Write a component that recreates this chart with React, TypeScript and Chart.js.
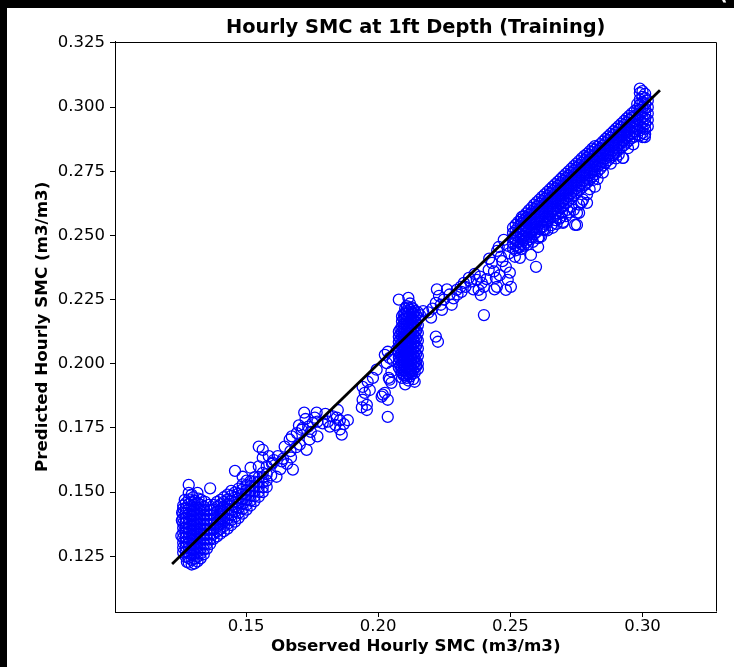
import React, { useEffect, useRef } from 'react';
import { Chart, registerables } from 'chart.js';

Chart.register(...registerables);

const titleText = 'Hourly SMC at 1ft Depth (Training)';
const xLabel = 'Observed Hourly SMC (m3/m3)';
const yLabel = 'Predicted Hourly SMC (m3/m3)';
const xTicks = [0.15, 0.2, 0.25, 0.3];
const yTicks = [0.125, 0.15, 0.175, 0.2, 0.225, 0.25, 0.275, 0.3, 0.325];
const xRange = [0.1004, 0.328];
const yRange = [0.1033, 0.3255];
const refLine = [0.122, 0.3066];

// dense columns: [observed, [predicted...]]
const lowBlob: [number, number[]][] = [
  [0.1262, [0.1265, 0.1284, 0.1303, 0.1322, 0.1341, 0.136, 0.1379, 0.1398, 0.1417, 0.1436, 0.1448]],
  [0.1272, [0.1248, 0.1267, 0.1286, 0.1305, 0.1324, 0.1343, 0.1362, 0.1381, 0.14, 0.1419, 0.1438, 0.1457]],
  [0.1283, [0.1225, 0.1244, 0.1263, 0.1282, 0.1301, 0.132, 0.1339, 0.1358, 0.1377, 0.1396, 0.1415, 0.1434, 0.1453, 0.1472, 0.1497, 0.1528]],
  [0.1294, [0.1218, 0.1236, 0.1255, 0.1274, 0.1293, 0.1312, 0.1331, 0.135, 0.1369, 0.1388, 0.1407, 0.1426, 0.1445, 0.1464, 0.149]],
  [0.1305, [0.1222, 0.1241, 0.126, 0.1279, 0.1298, 0.1317, 0.1336, 0.1355, 0.1374, 0.1393, 0.1412, 0.1431, 0.145, 0.1466]],
  [0.1316, [0.123, 0.1249, 0.1268, 0.1287, 0.1306, 0.1325, 0.1344, 0.1363, 0.1382, 0.1401, 0.142, 0.1439, 0.1458, 0.1497]],
  [0.1328, [0.1242, 0.1261, 0.128, 0.1299, 0.1318, 0.1337, 0.1356, 0.1375, 0.1394, 0.1413, 0.1432, 0.145]],
  [0.134, [0.1258, 0.1277, 0.1296, 0.1315, 0.1334, 0.1353, 0.1372, 0.1391, 0.141, 0.1429, 0.1443]],
  [0.1352, [0.128, 0.1299, 0.1318, 0.1337, 0.1356, 0.1375, 0.1394, 0.1413, 0.1432]],
  [0.1364, [0.1298, 0.1317, 0.1336, 0.1355, 0.1374, 0.1393, 0.1412, 0.1431, 0.1515]],
];

const lowEdge: [number, number][] = [
  [0.1255, 0.133], [0.1257, 0.139], [0.1258, 0.142], [0.1268, 0.147], [0.13, 0.148],
  [0.132, 0.1475], [0.133, 0.147], [0.1345, 0.1462], [0.1358, 0.145], [0.1276, 0.1228],
];

const lowBand: [number, number[]][] = [
  [0.1377, [0.1318, 0.1337, 0.1356, 0.1375, 0.1394, 0.1413, 0.1432, 0.145]],
  [0.139, [0.1328, 0.1347, 0.1366, 0.1385, 0.1404, 0.1423, 0.1442, 0.1462]],
  [0.1403, [0.1338, 0.1357, 0.1376, 0.1395, 0.1414, 0.1433, 0.1452, 0.147]],
  [0.1416, [0.1348, 0.1367, 0.1386, 0.1405, 0.1424, 0.1443, 0.1462, 0.148]],
  [0.143, [0.1358, 0.1377, 0.1396, 0.1415, 0.1434, 0.1453, 0.1472, 0.149]],
  [0.1444, [0.1372, 0.1391, 0.141, 0.1429, 0.1448, 0.1467, 0.1486, 0.1505]],
  [0.1458, [0.1385, 0.1404, 0.1423, 0.1442, 0.1461, 0.148, 0.1499, 0.1583]],
  [0.1472, [0.14, 0.1419, 0.1438, 0.1457, 0.1476, 0.1495, 0.1514]],
  [0.1487, [0.1416, 0.1435, 0.1454, 0.1473, 0.1492, 0.1511, 0.153, 0.156]],
  [0.1502, [0.1432, 0.1451, 0.147, 0.1489, 0.1508, 0.1527, 0.1545]],
  [0.1517, [0.1448, 0.1467, 0.1486, 0.1505, 0.1524, 0.1543, 0.1595]],
  [0.1532, [0.1465, 0.1484, 0.1503, 0.1522, 0.1541, 0.1558]],
  [0.1548, [0.1482, 0.1501, 0.152, 0.1539, 0.1558, 0.16, 0.1677]],
  [0.1563, [0.15, 0.1519, 0.1538, 0.1557, 0.1575, 0.1634, 0.1665]],
  [0.1578, [0.152, 0.1545, 0.157, 0.16]],
];

const lowScatter: [number, number][] = [
  [0.1586, 0.164], [0.1595, 0.1565], [0.1598, 0.161], [0.16, 0.1615], [0.1605, 0.1625],
  [0.1615, 0.156], [0.162, 0.164], [0.163, 0.159], [0.1635, 0.162], [0.164, 0.163],
  [0.1646, 0.1677], [0.1655, 0.161], [0.1665, 0.1705], [0.1668, 0.166], [0.167, 0.1635],
  [0.1673, 0.1717], [0.1677, 0.1588], [0.169, 0.1675], [0.1692, 0.173], [0.17, 0.176],
  [0.1703, 0.1685], [0.171, 0.1743], [0.1714, 0.175], [0.172, 0.181], [0.1725, 0.1785],
  [0.1729, 0.1665], [0.1735, 0.1755], [0.174, 0.1705], [0.1745, 0.1735], [0.1752, 0.177],
  [0.176, 0.179], [0.1767, 0.181], [0.177, 0.1775], [0.177, 0.1717], [0.179, 0.1768],
  [0.18, 0.1805], [0.181, 0.1775], [0.1817, 0.1755], [0.1828, 0.1795], [0.1838, 0.1762],
  [0.1843, 0.179], [0.1847, 0.182], [0.1855, 0.178], [0.1855, 0.1744], [0.1862, 0.1724],
  [0.187, 0.1765], [0.1885, 0.178],
];

const midScatter: [number, number][] = [
  [0.1938, 0.183], [0.1941, 0.191], [0.1941, 0.186], [0.1949, 0.1887], [0.1957, 0.182],
  [0.1957, 0.184], [0.196, 0.193], [0.1968, 0.1898], [0.198, 0.1945], [0.1994, 0.1977],
  [0.2013, 0.1872], [0.2017, 0.188], [0.2025, 0.1887], [0.2025, 0.2035], [0.2032, 0.2003],
  [0.2036, 0.186], [0.2036, 0.1793], [0.2036, 0.2047], [0.204, 0.1945], [0.2043, 0.1938],
  [0.2043, 0.2023], [0.205, 0.197], [0.205, 0.1926], [0.2055, 0.2015], [0.207, 0.2055],
];

const midBlob: [number, number[]][] = [
  [0.2078, [0.1985, 0.2005, 0.2025, 0.2045, 0.2065, 0.2085, 0.2105, 0.2125, 0.225]],
  [0.2084, [0.1975, 0.1995, 0.2015, 0.2035, 0.2055, 0.2075, 0.2095, 0.2115, 0.2135]],
  [0.209, [0.1945, 0.1965, 0.1985, 0.2005, 0.2025, 0.2045, 0.2065, 0.2085, 0.2105, 0.2125, 0.2145, 0.2165, 0.2185]],
  [0.2096, [0.1955, 0.1975, 0.1995, 0.2015, 0.2035, 0.2055, 0.2075, 0.2095, 0.2115, 0.2135, 0.2155, 0.2175, 0.2195]],
  [0.2102, [0.192, 0.1955, 0.1975, 0.1995, 0.2015, 0.2035, 0.2055, 0.2075, 0.2095, 0.2115, 0.2135, 0.2155, 0.2175, 0.2195, 0.2215]],
  [0.2108, [0.1945, 0.1965, 0.1985, 0.2005, 0.2025, 0.2045, 0.2065, 0.2085, 0.2105, 0.2125, 0.2145, 0.2165, 0.2185, 0.2205, 0.2225]],
  [0.2114, [0.1935, 0.196, 0.198, 0.2, 0.202, 0.204, 0.206, 0.208, 0.21, 0.212, 0.214, 0.216, 0.218, 0.22, 0.222, 0.2257]],
  [0.212, [0.195, 0.197, 0.199, 0.201, 0.203, 0.205, 0.207, 0.209, 0.211, 0.213, 0.215, 0.217, 0.219, 0.221, 0.2235]],
  [0.2126, [0.196, 0.198, 0.2, 0.202, 0.204, 0.206, 0.208, 0.21, 0.212, 0.214, 0.216, 0.218, 0.22, 0.222]],
  [0.2132, [0.194, 0.1975, 0.1995, 0.2015, 0.2035, 0.2055, 0.2075, 0.2095, 0.2115, 0.2135, 0.2155, 0.2175, 0.2195, 0.2215]],
  [0.2138, [0.193, 0.1965, 0.1985, 0.2005, 0.2025, 0.2045, 0.2065, 0.2085, 0.2105, 0.2125, 0.2145, 0.2165, 0.2185, 0.2205]],
  [0.2144, [0.199, 0.201, 0.204, 0.207, 0.21, 0.213, 0.216, 0.219]],
  [0.215, [0.198, 0.2, 0.203, 0.206, 0.209, 0.212, 0.215, 0.218, 0.22]],
];

const upperScatter: [number, number][] = [
  [0.2158, 0.219], [0.217, 0.2205], [0.219, 0.22], [0.22, 0.218], [0.2205, 0.2215],
  [0.2218, 0.2106], [0.2218, 0.2237], [0.2222, 0.229], [0.2226, 0.2086], [0.223, 0.2265],
  [0.2237, 0.223], [0.2241, 0.221], [0.2248, 0.225], [0.226, 0.229], [0.227, 0.227],
  [0.2278, 0.223], [0.2285, 0.2255], [0.2297, 0.2288], [0.23, 0.227], [0.2312, 0.23],
  [0.2315, 0.228], [0.2324, 0.2315], [0.233, 0.23], [0.2343, 0.2335], [0.235, 0.232],
  [0.236, 0.229], [0.2365, 0.235], [0.2373, 0.2327], [0.238, 0.2288], [0.2385, 0.234],
  [0.2388, 0.2268], [0.2392, 0.2315], [0.24, 0.219], [0.24, 0.23], [0.241, 0.233],
  [0.2418, 0.2366], [0.242, 0.241], [0.243, 0.2393], [0.2438, 0.236], [0.244, 0.229],
  [0.2445, 0.2335], [0.2449, 0.23], [0.245, 0.244], [0.2456, 0.2455], [0.246, 0.2345],
  [0.2464, 0.2417], [0.247, 0.24], [0.2475, 0.2483], [0.2483, 0.2378], [0.2483, 0.2288],
  [0.249, 0.2327], [0.249, 0.246], [0.2495, 0.243], [0.2498, 0.2355], [0.2502, 0.23],
  [0.2517, 0.2417], [0.2536, 0.2413], [0.2578, 0.2424], [0.2597, 0.2378], [0.2605, 0.2455],
];

const highBand: [number, number[]][] = [
  [0.251, [0.245, 0.247, 0.249, 0.251, 0.253]],
  [0.252, [0.2442, 0.2461, 0.2481, 0.25, 0.252, 0.2541]],
  [0.253, [0.2455, 0.2474, 0.2494, 0.2513, 0.2533, 0.2553]],
  [0.254, [0.2447, 0.2466, 0.2486, 0.2505, 0.2525, 0.2545, 0.2562]],
  [0.255, [0.246, 0.248, 0.2499, 0.2519, 0.2538, 0.2558, 0.2575]],
  [0.256, [0.2472, 0.2491, 0.2511, 0.253, 0.255, 0.2569, 0.2586]],
  [0.257, [0.2484, 0.2503, 0.2522, 0.2542, 0.2561, 0.258, 0.2598]],
  [0.258, [0.2493, 0.2513, 0.2532, 0.2552, 0.2571, 0.259, 0.2608]],
  [0.259, [0.2505, 0.2524, 0.2544, 0.2563, 0.2583, 0.2602, 0.262]],
  [0.26, [0.2514, 0.2534, 0.2553, 0.2573, 0.2592, 0.2612, 0.263]],
  [0.261, [0.2525, 0.2545, 0.2564, 0.2584, 0.2603, 0.2623, 0.264]],
  [0.262, [0.2535, 0.2555, 0.2574, 0.2594, 0.2613, 0.2633, 0.265]],
  [0.263, [0.2545, 0.2565, 0.2584, 0.2604, 0.2623, 0.2643, 0.266]],
  [0.264, [0.2556, 0.2575, 0.2595, 0.2614, 0.2634, 0.2653, 0.267]],
  [0.265, [0.2566, 0.2585, 0.2605, 0.2624, 0.2644, 0.2663, 0.268]],
  [0.266, [0.2575, 0.2595, 0.2614, 0.2634, 0.2653, 0.2673, 0.269]],
  [0.267, [0.2586, 0.2605, 0.2625, 0.2644, 0.2664, 0.2683, 0.27]],
  [0.268, [0.2596, 0.2615, 0.2635, 0.2654, 0.2674, 0.2693, 0.271]],
  [0.269, [0.2605, 0.2625, 0.2644, 0.2664, 0.2683, 0.2703, 0.272]],
  [0.27, [0.2616, 0.2635, 0.2655, 0.2674, 0.2694, 0.2713, 0.273]],
  [0.271, [0.2626, 0.2645, 0.2665, 0.2684, 0.2704, 0.2723, 0.274]],
  [0.272, [0.2636, 0.2655, 0.2675, 0.2694, 0.2714, 0.2733, 0.275]],
  [0.273, [0.2646, 0.2665, 0.2685, 0.2704, 0.2724, 0.2743, 0.276]],
  [0.274, [0.2656, 0.2675, 0.2695, 0.2714, 0.2734, 0.2753, 0.277]],
  [0.275, [0.2666, 0.2685, 0.2705, 0.2724, 0.2744, 0.2763, 0.278]],
  [0.276, [0.2676, 0.2695, 0.2715, 0.2734, 0.2754, 0.2773, 0.279]],
  [0.277, [0.2686, 0.2705, 0.2725, 0.2744, 0.2764, 0.2783, 0.28]],
  [0.278, [0.2696, 0.2715, 0.2735, 0.2754, 0.2774, 0.2793, 0.281]],
  [0.279, [0.2706, 0.2725, 0.2745, 0.2764, 0.2784, 0.2803, 0.2818]],
  [0.28, [0.2716, 0.2735, 0.2755, 0.2774, 0.2794, 0.2813, 0.2828]],
  [0.281, [0.2728, 0.2747, 0.2767, 0.2786, 0.2806, 0.2825, 0.2838]],
  [0.282, [0.2738, 0.2757, 0.2777, 0.2796, 0.2816, 0.2835, 0.2848]],
  [0.283, [0.275, 0.2769, 0.2789, 0.2808, 0.2828, 0.2846]],
  [0.284, [0.276, 0.2779, 0.2799, 0.2818, 0.2838, 0.2856]],
  [0.285, [0.2772, 0.2791, 0.2811, 0.283, 0.285, 0.2866]],
  [0.286, [0.2782, 0.2801, 0.2821, 0.284, 0.286, 0.2876]],
  [0.287, [0.2793, 0.2812, 0.2832, 0.2851, 0.2871, 0.2886]],
  [0.288, [0.2803, 0.2822, 0.2842, 0.2861, 0.2881, 0.2896]],
  [0.289, [0.2813, 0.2832, 0.2852, 0.2871, 0.2891, 0.2906]],
  [0.29, [0.2823, 0.2842, 0.2862, 0.2881, 0.2901, 0.2916]],
  [0.291, [0.2833, 0.2852, 0.2872, 0.2891, 0.2911, 0.2926]],
  [0.292, [0.2843, 0.2862, 0.2882, 0.2901, 0.2921, 0.2936]],
  [0.293, [0.2852, 0.2871, 0.2891, 0.291, 0.293, 0.2946]],
  [0.294, [0.2862, 0.2881, 0.2901, 0.292, 0.294, 0.2956]],
  [0.295, [0.2872, 0.2891, 0.2911, 0.293, 0.295, 0.2966]],
  [0.296, [0.288, 0.29, 0.292, 0.294, 0.296, 0.2976]],
  [0.297, [0.2885, 0.2905, 0.2925, 0.2945, 0.2965, 0.2985]],
  [0.298, [0.2892, 0.2912, 0.2932, 0.2952, 0.2972, 0.2992, 0.3012]],
  [0.299, [0.289, 0.291, 0.293, 0.295, 0.297, 0.299, 0.301, 0.303, 0.3055, 0.3072]],
  [0.3, [0.2883, 0.29, 0.292, 0.294, 0.296, 0.298, 0.3, 0.302, 0.304, 0.3062]],
  [0.301, [0.2895, 0.2915, 0.2935, 0.2955, 0.2975, 0.2995, 0.3015, 0.3035, 0.3052]],
  [0.302, [0.2925, 0.295, 0.2975, 0.3, 0.3025]],
];

const highScatter: [number, number][] = [
  [0.2543, 0.2572], [0.255, 0.2495], [0.2559, 0.2522], [0.261, 0.2495], [0.2616, 0.2495],
  [0.2623, 0.2533], [0.2625, 0.2522], [0.2631, 0.2522], [0.264, 0.2549], [0.2655, 0.254],
  [0.2661, 0.26], [0.267, 0.256], [0.2685, 0.2565], [0.2695, 0.2588], [0.2699, 0.2549],
  [0.27, 0.2553], [0.2715, 0.26], [0.273, 0.2612], [0.2745, 0.2541], [0.2752, 0.2541],
  [0.2752, 0.2588], [0.276, 0.2588], [0.276, 0.262], [0.2775, 0.264], [0.279, 0.2627],
  [0.279, 0.266], [0.2813, 0.2716], [0.282, 0.269], [0.291, 0.2815], [0.2925, 0.2802],
  [0.2927, 0.2802], [0.3009, 0.2883],
  [0.2535, 0.2455], [0.2565, 0.2465], [0.2585, 0.2475], [0.2605, 0.249], [0.264, 0.252],
  [0.266, 0.253], [0.2675, 0.2545], [0.269, 0.257], [0.271, 0.2575], [0.2725, 0.259],
  [0.274, 0.26], [0.277, 0.263], [0.28, 0.268], [0.283, 0.272], [0.285, 0.2745],
  [0.288, 0.278], [0.29, 0.28], [0.2945, 0.284], [0.2965, 0.2855],
];

const fromColumns = (cols: [number, number[]][]) =>
  cols.flatMap(([x, ys]) => ys.map((y) => ({ x, y })));
const fromPairs = (pairs: [number, number][]) => pairs.map(([x, y]) => ({ x, y }));

const scatterPoints = [
  ...fromColumns(lowBlob),
  ...fromPairs(lowEdge),
  ...fromColumns(lowBand),
  ...fromPairs(lowScatter),
  ...fromPairs(midScatter),
  ...fromColumns(midBlob),
  ...fromPairs(upperScatter),
  ...fromColumns(highBand),
  ...fromPairs(highScatter),
];

const FONT = "'DejaVu Sans', sans-serif";

const framePlugin = {
  id: 'frame',
  beforeDraw(chart: any) {
    const { ctx, width, height } = chart;
    ctx.save();
    ctx.fillStyle = '#000';
    ctx.fillRect(0, 0, width, height);
    ctx.fillStyle = '#fff';
    ctx.fillRect(7, 8, width - 7, height - 8);
    ctx.font = `bold 19px ${FONT}`;
    ctx.textBaseline = 'alphabetic';
    ctx.fillText('(', 719, 0);
    ctx.restore();
  },
  afterDraw(chart: any) {
    const { ctx, chartArea } = chart;
    const l = Math.round(chartArea.left) + 0.5;
    const r = Math.round(chartArea.right) - 0.5;
    const t = Math.round(chartArea.top) + 0.5;
    const b = Math.round(chartArea.bottom) - 0.5;
    ctx.save();
    ctx.strokeStyle = '#000';
    ctx.lineWidth = 1;
    ctx.beginPath();
    ctx.moveTo(l, t);
    ctx.lineTo(r, t);
    ctx.lineTo(r, b);
    ctx.stroke();
    ctx.restore();
  },
};

export default function App() {
  const canvasRef = useRef<HTMLCanvasElement | null>(null);

  useEffect(() => {
    document.body.style.margin = '0';
    document.body.style.background = '#000';
    const canvas = canvasRef.current;
    if (!canvas) return;
    const chart = new Chart(canvas, {
      type: 'scatter',
      data: {
        datasets: [
          {
            type: 'line',
            data: refLine.map((v) => ({ x: v, y: v })),
            borderColor: '#000',
            borderWidth: 2.8,
            pointRadius: 0,
            showLine: true,
            fill: false,
            order: 0,
          } as any,
          {
            type: 'scatter',
            data: scatterPoints,
            backgroundColor: 'rgba(0,0,0,0)',
            borderColor: '#0000ff',
            borderWidth: 1.3,
            pointRadius: 5.5,
            order: 1,
          },
        ],
      },
      options: {
        responsive: false,
        animation: false,
        events: [],
        layout: { padding: { left: 0, right: 17.5, top: 0, bottom: 0 } },
        plugins: {
          legend: { display: false },
          tooltip: { enabled: false },
          title: {
            display: true,
            text: titleText,
            fullSize: false,
            color: '#000',
            font: { family: FONT, size: 19.4, weight: 'bold', lineHeight: 1.2 },
            padding: { top: 16.4, bottom: 2 },
          },
        },
        scales: {
          x: {
            type: 'linear',
            min: xRange[0],
            max: xRange[1],
            afterFit: (s: any) => {
              s.height = 55;
            },
            afterBuildTicks: (s: any) => {
              s.ticks = xTicks.map((value) => ({ value }));
            },
            ticks: {
              callback: (v: any) => Number(v).toFixed(2),
              color: '#000',
              font: { family: FONT, size: 16.5, lineHeight: 1 },
              padding: 1.5,
              maxRotation: 0,
              autoSkip: false,
            },
            grid: { drawOnChartArea: false, drawTicks: true, tickLength: 5, color: '#000', lineWidth: 1 },
            border: { display: true, color: '#000', width: 1 },
            title: {
              display: true,
              text: xLabel,
              color: '#000',
              font: { family: FONT, size: 16.7, weight: 'bold', lineHeight: 1.2 },
              padding: { top: 0, bottom: 10.5 },
            },
          },
          y: {
            type: 'linear',
            min: yRange[0],
            max: yRange[1],
            afterFit: (s: any) => {
              s.width = 115;
            },
            afterBuildTicks: (s: any) => {
              s.ticks = yTicks.map((value) => ({ value }));
            },
            ticks: {
              callback: (v: any) => Number(v).toFixed(3),
              color: '#000',
              font: { family: FONT, size: 16.5, lineHeight: 1 },
              padding: 5,
              autoSkip: false,
            },
            grid: { drawOnChartArea: false, drawTicks: true, tickLength: 5, color: '#000', lineWidth: 1 },
            border: { display: true, color: '#000', width: 1 },
            title: {
              display: true,
              text: yLabel,
              color: '#000',
              font: { family: FONT, size: 16.7, weight: 'bold', lineHeight: 1.2 },
              padding: { top: 32.5, bottom: 0 },
            },
          },
        },
      },
      plugins: [framePlugin],
    } as any);
    return () => chart.destroy();
  }, []);

  return (
    <div style={{ width: 734, height: 667, position: 'relative' }}>
      <canvas ref={canvasRef} width={734} height={667} style={{ display: 'block' }} />
    </div>
  );
}
